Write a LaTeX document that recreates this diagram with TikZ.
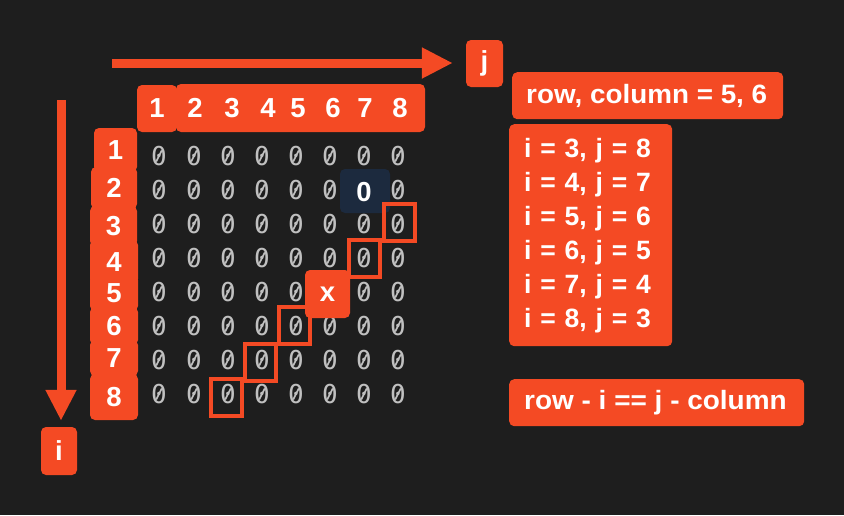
\documentclass[tikz,border=0pt]{standalone}
\usepackage{fontspec}
\setmainfont{Liberation Sans}
\newfontfamily\monof{DejaVu Sans Mono}
\usetikzlibrary{arrows.meta}
\definecolor{bg}{RGB}{30,30,30}
\definecolor{org}{RGB}{244,74,36}
\definecolor{zgray}{RGB}{192,192,192}
\definecolor{hl}{RGB}{28,42,62}
\begin{document}
\begin{tikzpicture}[x=1pt,y=-1pt,
  lbl/.style={fill=org, rounded corners=5pt, text=white, font=\bfseries\fontsize{27.5}{33}\selectfont, inner sep=0pt},
  txt/.style={text=white, font=\bfseries\fontsize{27.5}{33}\selectfont, inner sep=0pt},
  zero/.style={text=zgray, font=\monof\fontsize{26}{30}\selectfont, inner sep=0pt},
  slash/.style={draw=zgray, line width=1.7pt},
  sq/.style={draw=org, line width=4pt, minimum width=31pt, minimum height=37pt, inner sep=0pt},
  bigarrow/.style={draw=org, line width=9pt, -{Triangle[length=31pt, width=29pt]}},
  infobox/.style={fill=org, rounded corners=5pt, text=white, font=\bfseries\fontsize{26.5}{34}\selectfont, inner xsep=14pt, inner ysep=0pt, align=left}
]
\fill[bg] (0,0) rectangle (844,515);
\useasboundingbox (0,0) rectangle (844,515);

% column header
\fill[org, rounded corners=5pt] (176,84) rectangle (425,132);
\node[lbl, minimum width=40pt, minimum height=47pt] (h1) at (157,108.5) {1};
\foreach \n/\x in {2/195,3/232,4/268,5/298,6/333,7/365,8/400}
  \node[txt] (h\n) at (\x,108) {\n};

% row header
\node[lbl, minimum width=43pt, minimum height=44pt] (r1) at (115.5,150) {1};
\node[lbl, minimum width=46pt, minimum height=42pt] (r2) at (114,188) {2};
\node[lbl, minimum width=47pt, minimum height=40pt] (r3) at (113.5,226) {3};
\node[lbl, minimum width=48pt, minimum height=44pt] (r4) at (114,262) {4};
\node[lbl, minimum width=48pt, minimum height=36pt] (r5) at (114,293) {5};
\node[lbl, minimum width=48pt, minimum height=38pt] (r6) at (114,326) {6};
\node[lbl, minimum width=48pt, minimum height=36pt] (r7) at (114,358) {7};
\node[lbl, minimum width=48pt, minimum height=46pt] (r8) at (114,397) {8};

% highlight cell
\node[fill=hl, rounded corners=5pt, minimum width=50pt, minimum height=44pt, inner sep=0pt] (hlbox) at (365,191) {};

% zeros
\newcommand\putzero[3]{%
  \node[zero] (z#1) at (#2,#3) {0};
  \draw[slash] ([shift={(-2.8,5.5)}]z#1.center) -- ([shift={(2.8,-5.5)}]z#1.center);}
\foreach \r/\y in {1/156,2/190,3/224,4/258,5/292,6/326,7/360,8/394}{
  \foreach \c/\x in {1/159,2/194,3/228,4/262,5/296,6/330,7/364,8/398}{
    \ifnum\r=2 \ifnum\c=7 \else
      \putzero{\r\c}{\x}{\y}
    \fi\else
    \ifnum\r=5 \ifnum\c=6 \else
      \putzero{\r\c}{\x}{\y}
    \fi\else
      \putzero{\r\c}{\x}{\y}
    \fi\fi
  }
}
\node[txt] (hlzero) at (364,192) {0};

% diagonal squares
\node[sq] (s38) at (399.5,222.5) {};
\node[sq] (s47) at (364.5,258) {};
\node[sq] (s65) at (294.5,325) {};
\node[sq] (s74) at (260,362.5) {};
\node[sq] (s83) at (226.5,397.5) {};

% x cell
\node[lbl, minimum width=45pt, minimum height=48pt] (xcell) at (327.5,294) {x};

% axes
\node[lbl, minimum width=37pt, minimum height=47pt] (jlab) at (484.5,63.5) {j};
\node[lbl, minimum width=36pt, minimum height=48pt] (ilab) at (59,451) {i};
\coordinate (jstart) at (112,63);
\coordinate (istart) at (61,100);
\draw[bigarrow, shorten >=13pt] (jstart) -- (jstart -| jlab.west);
\draw[bigarrow, shorten >=6pt] (istart) -- (istart |- ilab.north);

% info boxes
\node[infobox, anchor=north west, minimum height=47pt] (rc) at (512,72) {\makebox[243pt][l]{\scalebox{1.05}[1]{row, column = 5, 6}}};
\node[infobox, anchor=north west, text width=133pt, minimum height=222pt, inner xsep=15pt] (ij) at (509,124)
  {i = 3, j = 8\\ i = 4, j = 7\\ i = 5, j = 6\\ i = 6, j = 5\\ i = 7, j = 4\\ i = 8, j = 3};
\node[infobox, anchor=north west, minimum height=47pt, inner xsep=15pt] (eq) at (509,379) {\makebox[265pt][l]{\scalebox{1.055}[1]{row - i == j - column}}};
\end{tikzpicture}
\end{document}
